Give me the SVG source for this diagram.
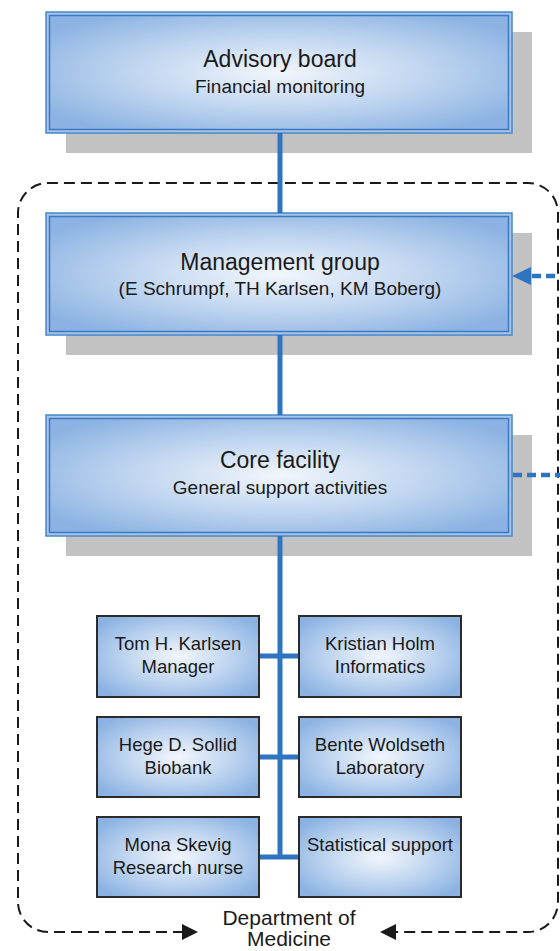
<svg xmlns="http://www.w3.org/2000/svg" width="560" height="951" viewBox="0 0 560 951">
  <defs>
    <radialGradient id="glow" cx="0.5" cy="0.5" r="0.62">
      <stop offset="0" stop-color="#f2f6fc"/>
      <stop offset="0.55" stop-color="#bcd3ef"/>
      <stop offset="1" stop-color="#8bb2e2"/>
    </radialGradient>
    <style>
      .shadow { fill: #c2c2c2; }
      .outer { fill: #a6c5ea; stroke: #4a86c8; stroke-width: 1.5; }
      .inner { fill: url(#glow); stroke: #3b7ac2; stroke-width: 1.5; }
      .small { fill: url(#glow); stroke: #2b2b2b; stroke-width: 2; }
      .title { font-family: "Liberation Sans", Arial, sans-serif; font-size: 23px; fill: #1a1a1a; text-anchor: middle; }
      .sub { font-family: "Liberation Sans", Arial, sans-serif; font-size: 19px; fill: #1a1a1a; text-anchor: middle; }
      .lbl { font-family: "Liberation Sans", Arial, sans-serif; font-size: 18.5px; fill: #1a1a1a; text-anchor: middle; }
      .dept { font-family: "Liberation Sans", Arial, sans-serif; font-size: 21px; fill: #1a1a1a; text-anchor: middle; }
      .link { stroke: #2f74c0; stroke-width: 5; fill: none; }
      .dots { stroke: #2f74c0; stroke-width: 4.5; fill: none; stroke-dasharray: 9 5; }
      .boundary { stroke: #1a1a1a; stroke-width: 2; fill: none; stroke-dasharray: 11 6; }
    </style>
  </defs>

  <g id="department-boundary">
    <path class="boundary" d="M 184 932 L 48 932 A 30 30 0 0 1 18 902 L 18 213 A 30 30 0 0 1 48 183 L 528 183 A 30 30 0 0 1 558 213 L 558 902 A 30 30 0 0 1 528 932 L 394 932"/>
    <polygon points="182,924 198,932 182,940" fill="#1a1a1a"/>
    <polygon points="396,924 380,932 396,940" fill="#1a1a1a"/>
    <text class="dept" x="289" y="925">Department of</text>
    <text class="dept" x="289" y="946">Medicine</text>
  </g>

  <g id="advisory-board">
    <rect class="shadow" x="66" y="32" width="466" height="121"/>
    <rect class="outer" x="46" y="12" width="466" height="121"/>
    <rect class="inner" x="49.5" y="15.5" width="459" height="114"/>
    <text class="title" x="280" y="67">Advisory board</text>
    <text class="sub" x="280" y="93">Financial monitoring</text>
  </g>

  <g id="management-group">
    <rect class="shadow" x="66" y="233" width="466" height="122"/>
    <rect class="outer" x="46" y="213" width="466" height="122"/>
    <rect class="inner" x="49.5" y="216.5" width="459" height="115"/>
    <text class="title" x="280" y="270">Management group</text>
    <text class="sub" x="280" y="295">(E Schrumpf, TH Karlsen, KM Boberg)</text>
  </g>

  <g id="core-facility">
    <rect class="shadow" x="66" y="435" width="466" height="121"/>
    <rect class="outer" x="46" y="415" width="466" height="121"/>
    <rect class="inner" x="49.5" y="418.5" width="459" height="114"/>
    <text class="title" x="280" y="468">Core facility</text>
    <text class="sub" x="280" y="494">General support activities</text>
  </g>

  <g id="connectors">
    <line class="link" x1="280" y1="133" x2="280" y2="213"/>
    <line class="link" x1="280" y1="335" x2="280" y2="415"/>
    <line class="link" x1="280" y1="536" x2="280" y2="859"/>
    <line class="link" x1="258" y1="656" x2="300" y2="656"/>
    <line class="link" x1="258" y1="757" x2="300" y2="757"/>
    <line class="link" x1="258" y1="857" x2="300" y2="857"/>
    <line class="dots" x1="532" y1="276" x2="562" y2="276"/>
    <polygon points="512,276 531,267 531,285" fill="#2f74c0"/>
    <line class="dots" x1="513" y1="475" x2="562" y2="475"/>
  </g>

  <g id="tom-karlsen">
    <rect class="small" x="97" y="616" width="162" height="81"/>
    <text class="lbl" x="178" y="650">Tom H. Karlsen</text>
    <text class="lbl" x="178" y="673">Manager</text>
  </g>
  <g id="kristian-holm">
    <rect class="small" x="299" y="616" width="162" height="81"/>
    <text class="lbl" x="380" y="650">Kristian Holm</text>
    <text class="lbl" x="380" y="673">Informatics</text>
  </g>
  <g id="hege-sollid">
    <rect class="small" x="97" y="717" width="162" height="80"/>
    <text class="lbl" x="178" y="751">Hege D. Sollid</text>
    <text class="lbl" x="178" y="774">Biobank</text>
  </g>
  <g id="bente-woldseth">
    <rect class="small" x="299" y="717" width="162" height="80"/>
    <text class="lbl" x="380" y="751">Bente Woldseth</text>
    <text class="lbl" x="380" y="774">Laboratory</text>
  </g>
  <g id="mona-skevig">
    <rect class="small" x="97" y="817" width="162" height="80"/>
    <text class="lbl" x="178" y="851">Mona Skevig</text>
    <text class="lbl" x="178" y="874">Research nurse</text>
  </g>
  <g id="statistical-support">
    <rect class="small" x="299" y="817" width="162" height="80"/>
    <text class="lbl" x="380" y="851">Statistical support</text>
  </g>
</svg>
